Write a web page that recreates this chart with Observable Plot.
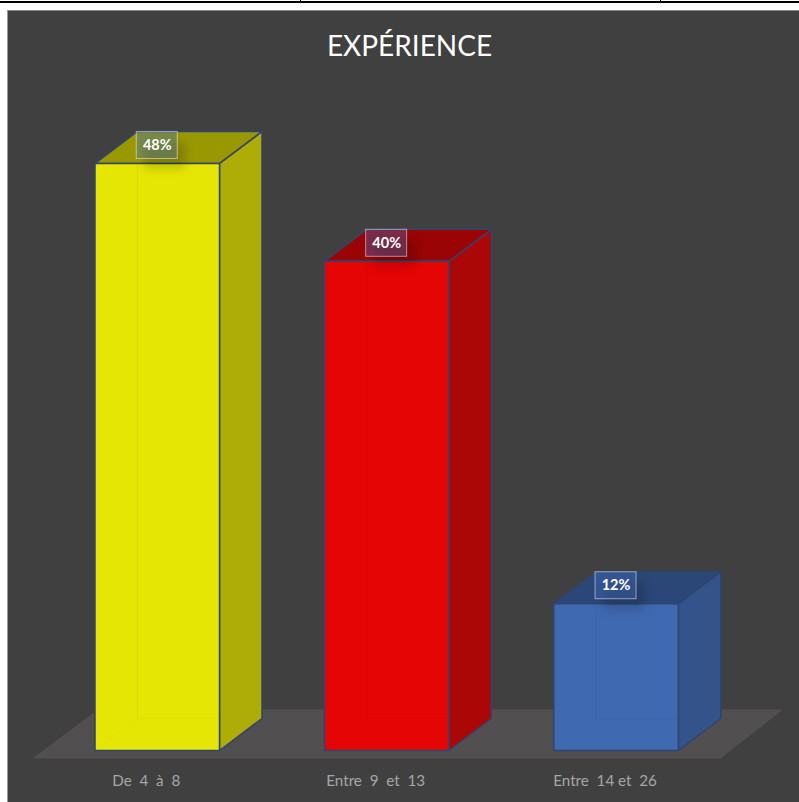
<!DOCTYPE html>
<html lang="fr">
<head>
<meta charset="utf-8">
<title>Expérience</title>
<script src="https://cdn.jsdelivr.net/npm/d3@7"></script>
<script src="https://cdn.jsdelivr.net/npm/@observablehq/plot@0.6"></script>
<style>
  html, body { margin: 0; padding: 0; background: #fff; }
  body { width: 799px; height: 802px; position: relative; overflow: hidden; }
  .rule { position: absolute; left: 0; right: 0; top: 1px; height: 2px; background: #000; }
  .tick { position: absolute; top: 0; width: 1px; height: 2px; background: #000; }
  .panel { position: absolute; left: 7px; top: 10px; right: 0; bottom: 0; background: #404040;
           border-left: 1px solid #9a9a9a; border-top: 1px solid #8a8a8a; }
  #chart { position: absolute; left: 0; top: 0; }
  #chart svg { background: transparent; display: block; }
  #chart text { white-space: pre; }
</style>
</head>
<body>
<div class="rule"></div>
<div class="tick" style="left:300px"></div>
<div class="tick" style="left:660px"></div>
<div class="panel"></div>
<div id="chart"></div>
<script>
// Share of respondents per band of years of experience
const categories = ["De  4  à  8", "Entre  9  et  13", "Entre  14 et  26"];
const shares = [48, 40, 12];
const chartTitle = "EXPÉRIENCE";

// Face colours of each box
const frontColors = ["#e6e605", "#e60505", "#3f69b0"];
const sideColors = ["#b2b005", "#b00505", "#33548c"];
const topColors = ["#9a9800", "#9a0404", "#2b4778"];
const edgeColor = "#2f4470";

// Box geometry, in scale units: x counts category slots, y counts percent
const slotPx = 229.4, percentPx = 12.23, originX = 94.5;
const boxWidth = 124.5 / slotPx;
const depthX = 42.5 / slotPx, depthY = 32 / percentPx;

const width = 799, height = 802;
const xScale = { type: "linear", domain: [-originX / slotPx, (width - originX) / slotPx], range: [0, width] };
const yScale = { type: "linear", domain: [-52 / percentPx, 750 / percentPx], range: [height, 0] };

// Closed polygons drawn through the x and y scales
const polygon = (id, fill, pts) => pts.concat([pts[0]]).map(([x, y]) => ({ id, fill, x, y }));

const sides = [], tops = [], fronts = [], hidden = [];
shares.forEach((v, i) => {
  const x0 = i, x1 = i + boxWidth;
  sides.push(...polygon("side" + i, sideColors[i], [[x1, 0], [x1 + depthX, depthY], [x1 + depthX, v + depthY], [x1, v]]));
  tops.push(...polygon("top" + i, topColors[i], [[x0, v], [x1, v], [x1 + depthX, v + depthY], [x0 + depthX, v + depthY]]));
  fronts.push(...polygon("front" + i, frontColors[i], [[x0, 0], [x1, 0], [x1, v], [x0, v]]));
  // Rear edges of the box, faintly visible through the front face
  hidden.push(
    { id: "h" + i, x: x0, y: 0 },
    { id: "h" + i, x: x0 + depthX, y: depthY },
    { id: "h" + i, x: x0 + depthX, y: v },
    { id: "h" + i, x: x0 + depthX, y: depthY },
    { id: "h" + i, x: x1, y: depthY }
  );
});

// Ground plane under the boxes
const floor = polygon("floor", "#524f50", [
  [-62.5 / slotPx, -8 / percentPx],
  [625.5 / slotPx, -8 / percentPx],
  [688 / slotPx, 41 / percentPx],
  [3 / slotPx, 41 / percentPx]
]);

const rows = shares.map((v, i) => ({
  x: i + boxWidth / 2,
  y: v,
  label: v + "%",
  category: categories[i]
}));

// Value tag sizes, in scale units
const tagW = 41 / slotPx, tagH = 27 / percentPx, tagLift = 4.5 / percentPx;

const chart = Plot.plot({
  width, height,
  margin: 0,
  x: { ...xScale, axis: null },
  y: { ...yScale, axis: null },
  style: { fontFamily: "Lato, 'Open Sans', sans-serif", background: "transparent" },
  marks: [
    Plot.line(floor, { x: "x", y: "y", z: "id", fill: "fill", stroke: null }),
    Plot.line(sides, { x: "x", y: "y", z: "id", fill: "fill", stroke: edgeColor, strokeWidth: 1.5, fillOpacity: 0.97 }),
    Plot.line(tops, { x: "x", y: "y", z: "id", fill: "fill", stroke: edgeColor, strokeWidth: 1.5 }),
    Plot.line(fronts, { x: "x", y: "y", z: "id", fill: "fill", stroke: edgeColor, strokeWidth: 1.5 }),
    Plot.line(hidden, { x: "x", y: "y", z: "id", stroke: "#000", strokeOpacity: 0.022, strokeWidth: 1 }),
    // Soft shadow cast by each value tag
    Plot.rect(rows, {
      x1: d => d.x - tagW / 2 + 8 / slotPx,
      x2: d => d.x + tagW / 2 + 8 / slotPx,
      y1: d => d.y - 6 / percentPx,
      y2: d => d.y + tagH - 6 / percentPx,
      fill: "#000",
      fillOpacity: 0.16,
      imageFilter: "blur(5px)"
    }),
    Plot.rect(rows, {
      x1: d => d.x - tagW / 2,
      x2: d => d.x + tagW / 2,
      y1: d => d.y + tagLift,
      y2: d => d.y + tagLift + tagH,
      fill: "#4472c4",
      fillOpacity: 0.37,
      stroke: "#fff",
      strokeOpacity: 0.5,
      strokeWidth: 1,
      inset: 0
    }),
    Plot.text(rows, {
      x: "x",
      y: d => d.y + tagLift + tagH / 2,
      text: "label",
      fill: "#fff",
      fontSize: 14.5,
      fontWeight: 700
    }),
    // Category labels sit on the ground line, shifted left of the box centres
    Plot.text(rows, {
      x: "x",
      y: -31 / percentPx,
      dx: -11,
      text: "category",
      fill: "#a6a6a6",
      fontSize: 15.2
    }),
    Plot.text([chartTitle], {
      frameAnchor: "top",
      dx: 9.5,
      dy: 36,
      text: d => d,
      fill: "#fff",
      fontSize: 28,
      fontWeight: 400
    })
  ]
});
document.getElementById("chart").appendChild(chart);
</script>
</body>
</html>
